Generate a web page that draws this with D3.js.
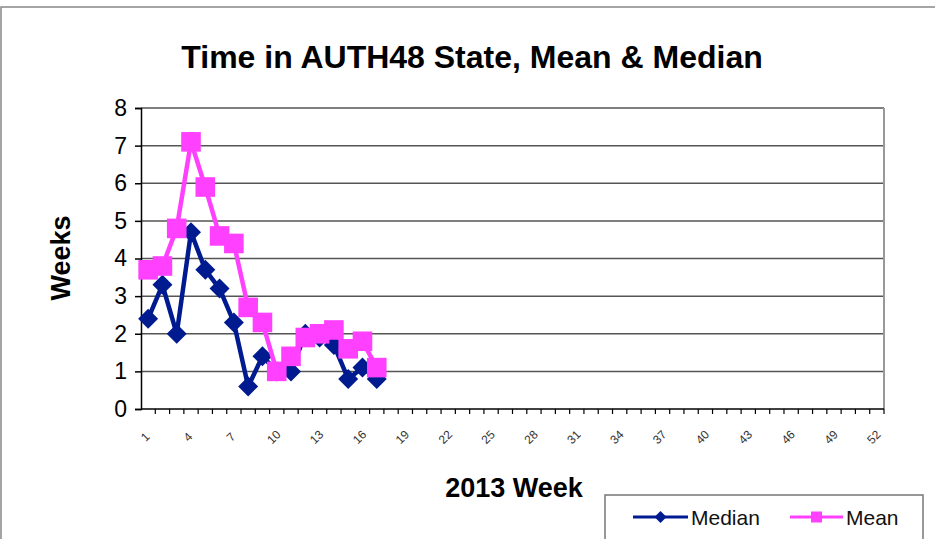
<!DOCTYPE html>
<html lang="en">
<head>
    <meta charset="utf-8">
    <title>Time in AUTH48 State</title>
    <style>
        body { margin: 0; background: #fff; }
        text { font-family: "Liberation Sans", Arial, sans-serif; }
    </style>
</head>
<body>
    <svg width="935" height="539"></svg>
    <script src="https://cdn.jsdelivr.net/npm/d3@7"></script>
    <script>
        // weeks 1..52, data only for the first 17
        const weeks = d3.range(1, 53);
        const medianWeeks = [2.4, 3.3, 2.0, 4.7, 3.7, 3.2, 2.3, 0.6, 1.4, 1.0, 1.0, 2.0, 1.9, 1.7, 0.8, 1.1, 0.8];
        const meanWeeks = [3.7, 3.8, 4.8, 7.1, 5.9, 4.6, 4.4, 2.7, 2.3, 1.0, 1.4, 1.9, 2.0, 2.1, 1.6, 1.8, 1.1];
        const yTicks = [0, 1, 2, 3, 4, 5, 6, 7, 8];
        const xLabels = weeks.filter(w => (w - 1) % 3 === 0);

        const svg = d3.select("svg");
        const margin = {left: 141, right: 884, top: 108, bottom: 409};

        // outer chart frame
        svg.append("rect")
            .attr("x", 1).attr("y", 7)
            .attr("width", 940).attr("height", 540)
            .attr("fill", "none")
            .attr("stroke", "#888")
            .attr("stroke-width", 1.5);

        const x = d3.scaleBand()
            .domain(weeks)
            .range([margin.left, margin.right]);
        const y = d3.scaleLinear()
            .domain([0, 8])
            .range([margin.bottom, margin.top]);

        // gridlines
        svg.append("g")
            .selectAll("line")
            .data(yTicks.filter(d => d > 0))
            .join("line")
                .attr("x1", margin.left).attr("x2", margin.right)
                .attr("y1", d => y(d)).attr("y2", d => y(d))
                .attr("stroke", "#555")
                .attr("stroke-width", 1.5);

        // right edge of plot area
        svg.append("line")
            .attr("x1", margin.right).attr("x2", margin.right)
            .attr("y1", margin.top).attr("y2", margin.bottom)
            .attr("stroke", "#999")
            .attr("stroke-width", 2);

        // y axis
        const yAxis = svg.append("g")
            .attr("transform", `translate(${margin.left},0)`)
            .call(d3.axisLeft(y).tickValues(yTicks).tickSize(6).tickPadding(8));
        yAxis.select(".domain").attr("stroke", "#000").attr("stroke-width", 1.5);
        yAxis.selectAll(".tick line").attr("stroke", "#000").attr("stroke-width", 1.5);
        yAxis.selectAll(".tick text")
            .attr("font-size", 23)
            .attr("fill", "#000")
            .attr("font-family", "Liberation Sans, Arial, sans-serif");

        // x axis: ticks at category boundaries
        const xg = svg.append("g");
        xg.append("line")
            .attr("x1", margin.left).attr("x2", margin.right)
            .attr("y1", margin.bottom).attr("y2", margin.bottom)
            .attr("stroke", "#000").attr("stroke-width", 1.5);
        xg.selectAll("line.tk")
            .data(weeks)
            .join("line")
                .attr("class", "tk")
                .attr("x1", d => x(d) + x.bandwidth()).attr("x2", d => x(d) + x.bandwidth())
                .attr("y1", margin.bottom).attr("y2", margin.bottom + 5)
                .attr("stroke", "#000").attr("stroke-width", 1.2);
        xg.selectAll("text")
            .data(xLabels)
            .join("text")
                .attr("transform", d => `translate(${x(d) + x.bandwidth() / 2 - 3},437) rotate(-45)`)
                .attr("text-anchor", "middle")
                .attr("dy", "0.35em")
                .attr("font-size", 12)
                .attr("fill", "#333")
                .text(d => d);

        // titles
        svg.append("text")
            .attr("x", 472).attr("y", 68)
            .attr("text-anchor", "middle")
            .attr("font-size", 32).attr("font-weight", "bold")
            .text("Time in AUTH48 State, Mean & Median");
        svg.append("text")
            .attr("x", 514).attr("y", 497)
            .attr("text-anchor", "middle")
            .attr("font-size", 27).attr("font-weight", "bold")
            .text("2013 Week");
        svg.append("text")
            .attr("transform", "translate(70,258) rotate(-90)")
            .attr("text-anchor", "middle")
            .attr("font-size", 27).attr("font-weight", "bold")
            .text("Weeks");

        const cx = d => x(d.week) + x.bandwidth() / 2;
        const line = d3.line().x(cx).y(d => y(d.v));

        // square diamond (rotated square), r = half diagonal
        const diamond = r => `M0,${-r}L${r},0L0,${r}L${-r},0Z`;
        const square = r => `M${-r},${-r}H${r}V${r}H${-r}Z`;

        const series = [
            {name: "Median", color: "#001a8f", values: medianWeeks, shape: diamond, r: 10, lr: 6},
            {name: "Mean", color: "#ff40ff", values: meanWeeks, shape: square, r: 9.8, lr: 5.5}
        ];

        series.forEach(s => {
            const pts = s.values.map((v, i) => ({week: weeks[i], v}));
            const g = svg.append("g");
            g.append("path")
                .attr("d", line(pts))
                .attr("fill", "none")
                .attr("stroke", s.color)
                .attr("stroke-width", 4.5)
                .attr("stroke-linejoin", "round");
            g.selectAll("path.m")
                .data(pts)
                .join("path")
                    .attr("class", "m")
                    .attr("transform", d => `translate(${cx(d)},${y(d.v)})`)
                    .attr("d", s.shape(s.r))
                    .attr("fill", s.color);
        });

        // legend
        const lg = svg.append("g");
        lg.append("rect")
            .attr("x", 605).attr("y", 495)
            .attr("width", 318).attr("height", 60)
            .attr("fill", "#fff")
            .attr("stroke", "#777").attr("stroke-width", 1.5);
        const legendItems = [
            {s: series[0], x0: 633, x1: 688},
            {s: series[1], x0: 790, x1: 843}
        ];
        legendItems.forEach(it => {
            lg.append("line")
                .attr("x1", it.x0).attr("x2", it.x1)
                .attr("y1", 517).attr("y2", 517)
                .attr("stroke", it.s.color).attr("stroke-width", 3);
            lg.append("path")
                .attr("transform", `translate(${(it.x0 + it.x1) / 2},517)`)
                .attr("d", it.s.shape(it.s.lr))
                .attr("fill", it.s.color);
            lg.append("text")
                .attr("x", it.x1 + 3).attr("y", 525)
                .attr("font-size", 21)
                .attr("fill", "#111")
                .text(it.s.name);
        });
    </script>
</body>
</html>
